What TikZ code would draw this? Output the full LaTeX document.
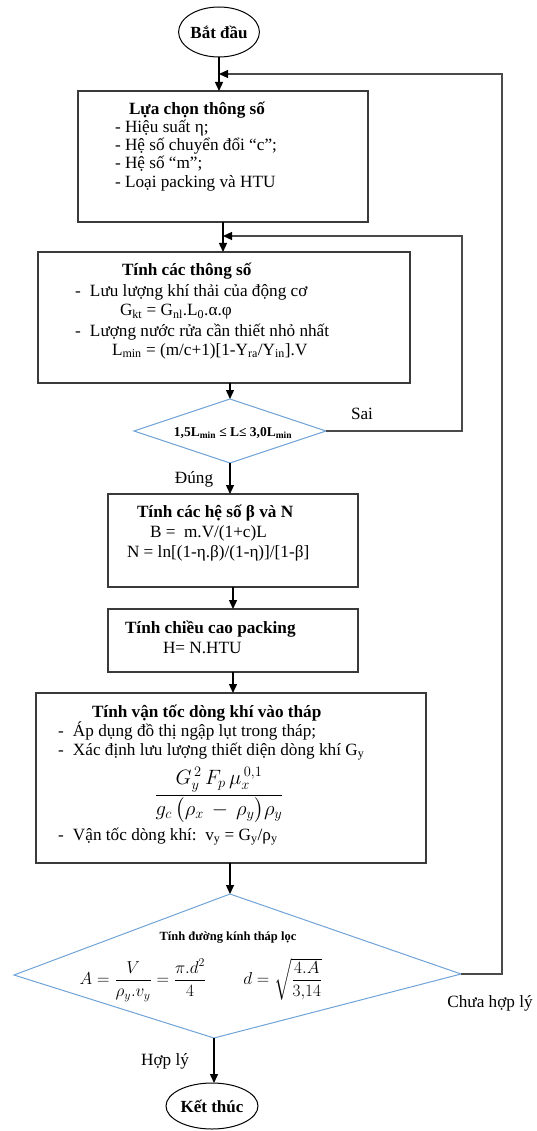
\documentclass[tikz,border=0pt]{standalone}
\usepackage{amsmath}
\usepackage{fontspec}
\setmainfont{Liberation Serif}
\usetikzlibrary{arrows.meta,shapes.geometric,calc}

\definecolor{boxline}{HTML}{3A3A3A}
\definecolor{decline}{HTML}{6FA3D8}
\definecolor{loopline}{HTML}{4A4A4A}

\begin{document}
\begin{tikzpicture}[x=1pt,y=-1pt,
  every node/.style={inner sep=0pt, outer sep=0pt},
  stepbox/.style={draw=boxline, line width=1.1pt, rectangle, anchor=north west},
  terminal/.style={draw=black, line width=1pt, ellipse, font=\fontsize{17}{18}\selectfont\bfseries},
  decision/.style={draw=decline, line width=1pt},
  txt/.style={anchor=base west, font=\fontsize{17.2}{18.5}\selectfont},
  lbl/.style={anchor=center, font=\fontsize{17.2}{18.5}\selectfont},
  arr/.style={draw=black, line width=1.4pt, -{Triangle[length=9pt,width=8pt]}},
  backline/.style={draw=loopline, line width=1.3pt, -{Triangle[length=9pt,width=8pt,fill=black,color=black]}}]

\useasboundingbox (0,0) rectangle (536,1131);

% terminals
\node[terminal, minimum width=80, minimum height=50] (start) at (219,32) {Bắt đầu};
\node[terminal, minimum width=92, minimum height=46] (end) at (212,1106) {Kết thúc};

% process boxes
\node[stepbox, minimum width=290, minimum height=131] (b1) at (78,91) {};
\node[stepbox, minimum width=372, minimum height=131] (b2) at (38,252) {};
\node[stepbox, minimum width=250, minimum height=93] (b3) at (108,494) {};
\node[stepbox, minimum width=250, minimum height=63] (b4) at (108,609) {};
\node[stepbox, minimum width=390, minimum height=170] (b5) at (36,693) {};

% box 1
\node[txt] (t1a) at (129,115) {\bfseries Lựa chọn thông số};
\node[txt] (t1b) at (115,133) {- Hiệu suất η;};
\node[txt] (t1c) at (115,151) {- Hệ số chuyển đổi “c”;};
\node[txt] (t1d) at (115,169) {- Hệ số “m”;};
\node[txt] (t1e) at (115,188) {- Loại packing và HTU};

% box 2
\node[txt] (t2a) at (122,276) {\bfseries Tính các thông số};
\node[txt] (t2b) at (75,296) {\makebox[15pt][l]{-}Lưu lượng khí thải của động cơ};
\node[txt] (t2c) at (120,316) {G\textsubscript{kt} = G\textsubscript{nl}.L\textsubscript{0}.α.φ};
\node[txt] (t2d) at (75,336) {\makebox[15pt][l]{-}Lượng nước rửa cần thiết nhỏ nhất};
\node[txt] (t2e) at (112,355) {L\textsubscript{min} = (m/c+1)[1-Y\textsubscript{ra}/Y\textsubscript{in}].V};

% decision 1
\node[diamond, decision, minimum width=192, minimum height=64] (d1) at (230,431) {};
\node[anchor=center, font=\fontsize{13.5}{15}\selectfont\bfseries] (d1t) at (233,433)
  {1,5L\textsubscript{min} ≤ L≤ 3,0L\textsubscript{min}};

% box 3
\node[txt] (t3a) at (137,517) {\bfseries Tính các hệ số β và N};
\node[txt] (t3b) at (150,537) {B =\ \ m.V/(1+c)L};
\node[txt] (t3c) at (127,557) {N = ln[(1-η.β)/(1-η)]/[1-β]};

% box 4
\node[txt] (t4a) at (125,633) {\bfseries Tính chiều cao packing};
\node[txt] (t4b) at (163,653) {H= N.HTU};

% box 5
\node[txt] (t5a) at (92,717) {\bfseries Tính vận tốc dòng khí vào tháp};
\node[txt] (t5b) at (58,736) {\makebox[15pt][l]{-}Áp dụng đồ thị ngập lụt trong tháp;};
\node[txt] (t5c) at (58,755) {\makebox[15pt][l]{-}Xác định lưu lượng thiết diện dòng khí G\textsubscript{y}};
\node[anchor=center, font=\fontsize{20}{24}\selectfont] (t5d) at (219,795)
  {$\dfrac{G_{y}^{\,2}\,F_{p}\,\mu_{x}^{\,0,1}}{g_{c}\,\bigl(\rho_{x}\,-\,\rho_{y}\bigr)\rho_{y}}$};
\node[txt] (t5e) at (58,840) {\makebox[15pt][l]{-}Vận tốc dòng khí:\ \ v\textsubscript{y} = G\textsubscript{y}/ρ\textsubscript{y}};

% decision 2
\coordinate (d2t) at (230,894);
\coordinate (d2r) at (461,974);
\coordinate (d2b) at (214,1038);
\coordinate (d2l) at (14,975);
\draw[decision] (d2t) -- (d2r) -- (d2b) -- (d2l) -- cycle;
\node[anchor=center, font=\fontsize{12.5}{14}\selectfont\bfseries] (d2a) at (228,938) {Tính đường kính tháp lọc};
\node[anchor=center, font=\fontsize{18.5}{20}\selectfont] (d2f) at (201,980)
  {$A=\dfrac{V}{\rho_{y}.v_{y}}=\dfrac{\pi.d^{2}}{4}\qquad d=\sqrt{\dfrac{4.A}{3{,}14}}$};

% branch labels
\node[lbl] (sai) at (362,414) {Sai};
\node[lbl] (dung) at (194,479) {Đúng};
\node[lbl] (hop) at (165,1061) {Hợp lý};
\node[lbl] (chua) at (490,1003) {Chưa hợp lý};

% main flow
\draw[arr] (start.south) -- (start.south |- b1.north);
\draw[arr] (b1.south) -- (b1.south |- b2.north);
\draw[arr] (d1.north |- b2.south) -- (d1.north);
\draw[arr] (d1.south) -- (d1.south |- b3.north);
\draw[arr] (b3.south) -- (b3.south |- b4.north);
\draw[arr] (b4.south) -- (b4.south |- b5.north);
\draw[arr] (d2t |- b5.south) -- (d2t);
\draw[arr] (d2b) -- (d2b |- end.north);

% feedback loops
\coordinate (sairail) at (462,236);
\coordinate (mainrail) at (502,74);
\draw[backline] (d1.east) -| (sairail) -- (sairail -| b1.south);
\draw[backline] (d2r) -| (mainrail) -- (mainrail -| start.south);

\end{tikzpicture}
\end{document}
